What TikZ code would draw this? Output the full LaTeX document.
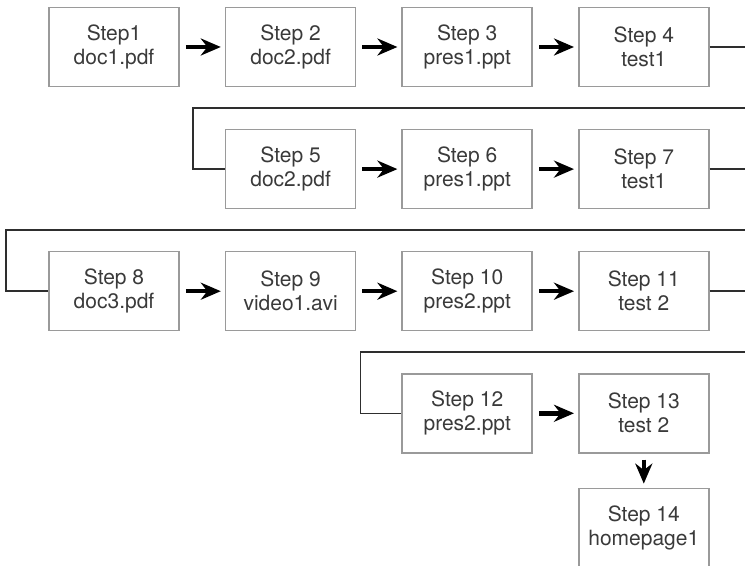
\documentclass[tikz,border=0pt]{standalone}
\usepackage{fontspec}
\setmainfont{TeX Gyre Heros}
\usepackage{tikz}
\usetikzlibrary{positioning, arrows.meta, calc}
\definecolor{boxgray}{HTML}{9A9A9A}
\definecolor{linkdark}{HTML}{2E2E2E}
\definecolor{textgray}{HTML}{3A3A3A}

\begin{document}
\begin{tikzpicture}[node distance=20.75pt and 22.5pt,
  stepbox/.style={draw=boxgray, line width=0.8pt, minimum width=65pt, minimum height=39.5pt,
    inner sep=0pt, align=center, text=textgray, font=\fontsize{10.5}{12}\selectfont},
  flow/.style={-{Stealth[length=10pt, width=8.5pt]}, line width=2.3pt, black, shorten <=3pt, shorten >=2pt},
  link/.style={linkdark, line width=0.75pt}]
  \useasboundingbox (0,0) rectangle (372.5pt,-283pt);
  \coordinate (rim) at (372.5pt,0);
  % row 1
  \node[stepbox] (s1) at (57pt,-23.5pt) {Step1\\doc1.pdf};
  \node[stepbox, right=of s1] (s2) {Step 2\\doc2.pdf};
  \node[stepbox, right=of s2] (s3) {Step 3\\pres1.ppt};
  \node[stepbox, right=of s3] (s4) {Step 4\\test1};
  % row 2
  \node[stepbox, below=of s2] (s5) {Step 5\\doc2.pdf};
  \node[stepbox, right=of s5] (s6) {Step 6\\pres1.ppt};
  \node[stepbox, right=of s6] (s7) {Step 7\\test1};
  % row 3
  \node[stepbox, below=of s5] (s9) {Step 9\\video1.avi};
  \node[stepbox, left=of s9] (s8) {Step 8\\doc3.pdf};
  \node[stepbox, right=of s9] (s10) {Step 10\\pres2.ppt};
  \node[stepbox, right=of s10] (s11) {Step 11\\test 2};
  % row 4
  \node[stepbox, below=of s10] (s12) {Step 12\\pres2.ppt};
  \node[stepbox, right=of s12] (s13) {Step 13\\test 2};
  \node[stepbox, below=17pt of s13] (s14) {Step 14\\homepage1};

  \draw[flow] (s1) -- (s2);
  \draw[flow] (s2) -- (s3);
  \draw[flow] (s3) -- (s4);
  \draw[flow] (s5) -- (s6);
  \draw[flow] (s6) -- (s7);
  \draw[flow] (s8) -- (s9);
  \draw[flow] (s9) -- (s10);
  \draw[flow] (s10) -- (s11);
  \draw[flow] (s12) -- (s13);
  \draw[flow] (s13) -- (s14);

  % row wraps
  \coordinate (t1) at ($(s2.south)!.5!(s5.north)$);
  \coordinate (t2) at ($(s5.south)!.5!(s9.north)$);
  \coordinate (t3) at ($(s10.south)!.5!(s12.north)$);
  \draw[link] (s4.east) -- (s4.east -| rim);
  \draw[link] (rim |- t1) -| ([xshift=-16pt]s5.west) -- (s5.west);
  \draw[link] (s7.east) -- (s7.east -| rim);
  \draw[link] (rim |- t2) -| ([xshift=-21pt]s8.west) -- (s8.west);
  \draw[link] (s11.east) -- (s11.east -| rim);
  \draw[link] (rim |- t3) -| ([xshift=-20.5pt]s12.west) -- (s12.west);
\end{tikzpicture}
\end{document}
